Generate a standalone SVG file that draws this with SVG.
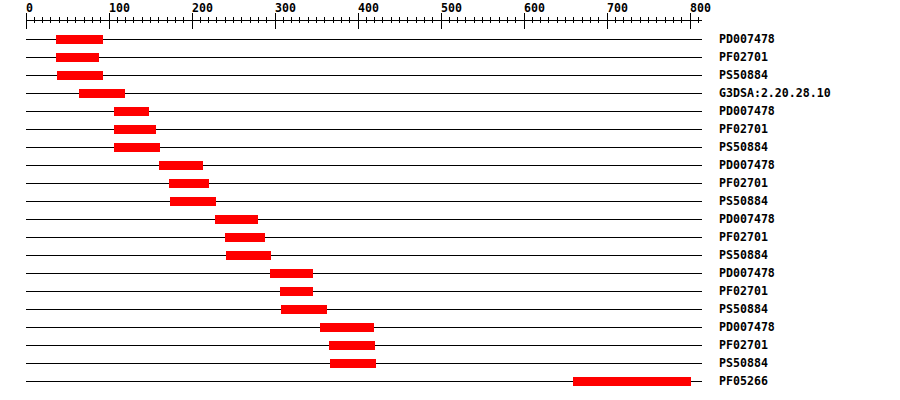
<svg xmlns="http://www.w3.org/2000/svg" xmlns:xlink="http://www.w3.org/1999/xlink" width="900" height="400" viewBox="0 0 900 400">
<style>
text{font-family:"DejaVu Sans Mono","Liberation Mono",monospace;font-weight:bold;font-size:11.6px;fill:#000}
.ax{stroke:#000;stroke-width:1;fill:none;shape-rendering:crispEdges}
.ln{stroke:#000;stroke-width:1;shape-rendering:crispEdges}
.bar{fill:#ff0000;shape-rendering:crispEdges}
</style>
<defs>
<path id="blk" class="ax" d="M26.5 13V29M34.5 17V23M42.5 17V23M50.5 17V23M59.5 17V23M67.5 17V23M75.5 17V23M84.5 17V23M92.5 17V23M100.5 17V23"/>
</defs>
<g id="ruler">
<line class="ax" x1="26" y1="20.5" x2="702" y2="20.5"/>
<use xlink:href="#blk"/>
<use xlink:href="#blk" x="83"/>
<use xlink:href="#blk" x="166"/>
<use xlink:href="#blk" x="249"/>
<use xlink:href="#blk" x="332"/>
<use xlink:href="#blk" x="415"/>
<use xlink:href="#blk" x="498"/>
<use xlink:href="#blk" x="581"/>
<path class="ax" d="M690.5 13V29M698.5 17V23"/>
<text x="26" y="12">0</text>
<text x="109" y="12">100</text>
<text x="192" y="12">200</text>
<text x="275" y="12">300</text>
<text x="358" y="12">400</text>
<text x="441" y="12">500</text>
<text x="524" y="12">600</text>
<text x="607" y="12">700</text>
<text x="690" y="12">800</text>
</g>
<g id="connectors">
<line class="ln" x1="26" y1="39.5" x2="702" y2="39.5"/>
<line class="ln" x1="26" y1="57.5" x2="702" y2="57.5"/>
<line class="ln" x1="26" y1="75.5" x2="702" y2="75.5"/>
<line class="ln" x1="26" y1="93.5" x2="702" y2="93.5"/>
<line class="ln" x1="26" y1="111.5" x2="702" y2="111.5"/>
<line class="ln" x1="26" y1="129.5" x2="702" y2="129.5"/>
<line class="ln" x1="26" y1="147.5" x2="702" y2="147.5"/>
<line class="ln" x1="26" y1="165.5" x2="702" y2="165.5"/>
<line class="ln" x1="26" y1="183.5" x2="702" y2="183.5"/>
<line class="ln" x1="26" y1="201.5" x2="702" y2="201.5"/>
<line class="ln" x1="26" y1="219.5" x2="702" y2="219.5"/>
<line class="ln" x1="26" y1="237.5" x2="702" y2="237.5"/>
<line class="ln" x1="26" y1="255.5" x2="702" y2="255.5"/>
<line class="ln" x1="26" y1="273.5" x2="702" y2="273.5"/>
<line class="ln" x1="26" y1="291.5" x2="702" y2="291.5"/>
<line class="ln" x1="26" y1="309.5" x2="702" y2="309.5"/>
<line class="ln" x1="26" y1="327.5" x2="702" y2="327.5"/>
<line class="ln" x1="26" y1="345.5" x2="702" y2="345.5"/>
<line class="ln" x1="26" y1="363.5" x2="702" y2="363.5"/>
<line class="ln" x1="26" y1="381.5" x2="702" y2="381.5"/>
</g>
<g id="row1"><rect class="bar" x="56" y="35" width="47" height="9"/><text x="719" y="43">PD007478</text></g>
<g id="row2"><rect class="bar" x="56" y="53" width="43" height="9"/><text x="719" y="61">PF02701</text></g>
<g id="row3"><rect class="bar" x="57" y="71" width="46" height="9"/><text x="719" y="79">PS50884</text></g>
<g id="row4"><rect class="bar" x="79" y="89" width="46" height="9"/><text x="719" y="97">G3DSA:2.20.28.10</text></g>
<g id="row5"><rect class="bar" x="114" y="107" width="35" height="9"/><text x="719" y="115">PD007478</text></g>
<g id="row6"><rect class="bar" x="114" y="125" width="42" height="9"/><text x="719" y="133">PF02701</text></g>
<g id="row7"><rect class="bar" x="114" y="143" width="46" height="9"/><text x="719" y="151">PS50884</text></g>
<g id="row8"><rect class="bar" x="159" y="161" width="44" height="9"/><text x="719" y="169">PD007478</text></g>
<g id="row9"><rect class="bar" x="169" y="179" width="40" height="9"/><text x="719" y="187">PF02701</text></g>
<g id="row10"><rect class="bar" x="170" y="197" width="46" height="9"/><text x="719" y="205">PS50884</text></g>
<g id="row11"><rect class="bar" x="215" y="215" width="43" height="9"/><text x="719" y="223">PD007478</text></g>
<g id="row12"><rect class="bar" x="225" y="233" width="40" height="9"/><text x="719" y="241">PF02701</text></g>
<g id="row13"><rect class="bar" x="226" y="251" width="45" height="9"/><text x="719" y="259">PS50884</text></g>
<g id="row14"><rect class="bar" x="270" y="269" width="43" height="9"/><text x="719" y="277">PD007478</text></g>
<g id="row15"><rect class="bar" x="280" y="287" width="33" height="9"/><text x="719" y="295">PF02701</text></g>
<g id="row16"><rect class="bar" x="281" y="305" width="46" height="9"/><text x="719" y="313">PS50884</text></g>
<g id="row17"><rect class="bar" x="320" y="323" width="54" height="9"/><text x="719" y="331">PD007478</text></g>
<g id="row18"><rect class="bar" x="329" y="341" width="46" height="9"/><text x="719" y="349">PF02701</text></g>
<g id="row19"><rect class="bar" x="330" y="359" width="46" height="9"/><text x="719" y="367">PS50884</text></g>
<g id="row20"><rect class="bar" x="573" y="377" width="118" height="9"/><text x="719" y="385">PF05266</text></g>
</svg>
